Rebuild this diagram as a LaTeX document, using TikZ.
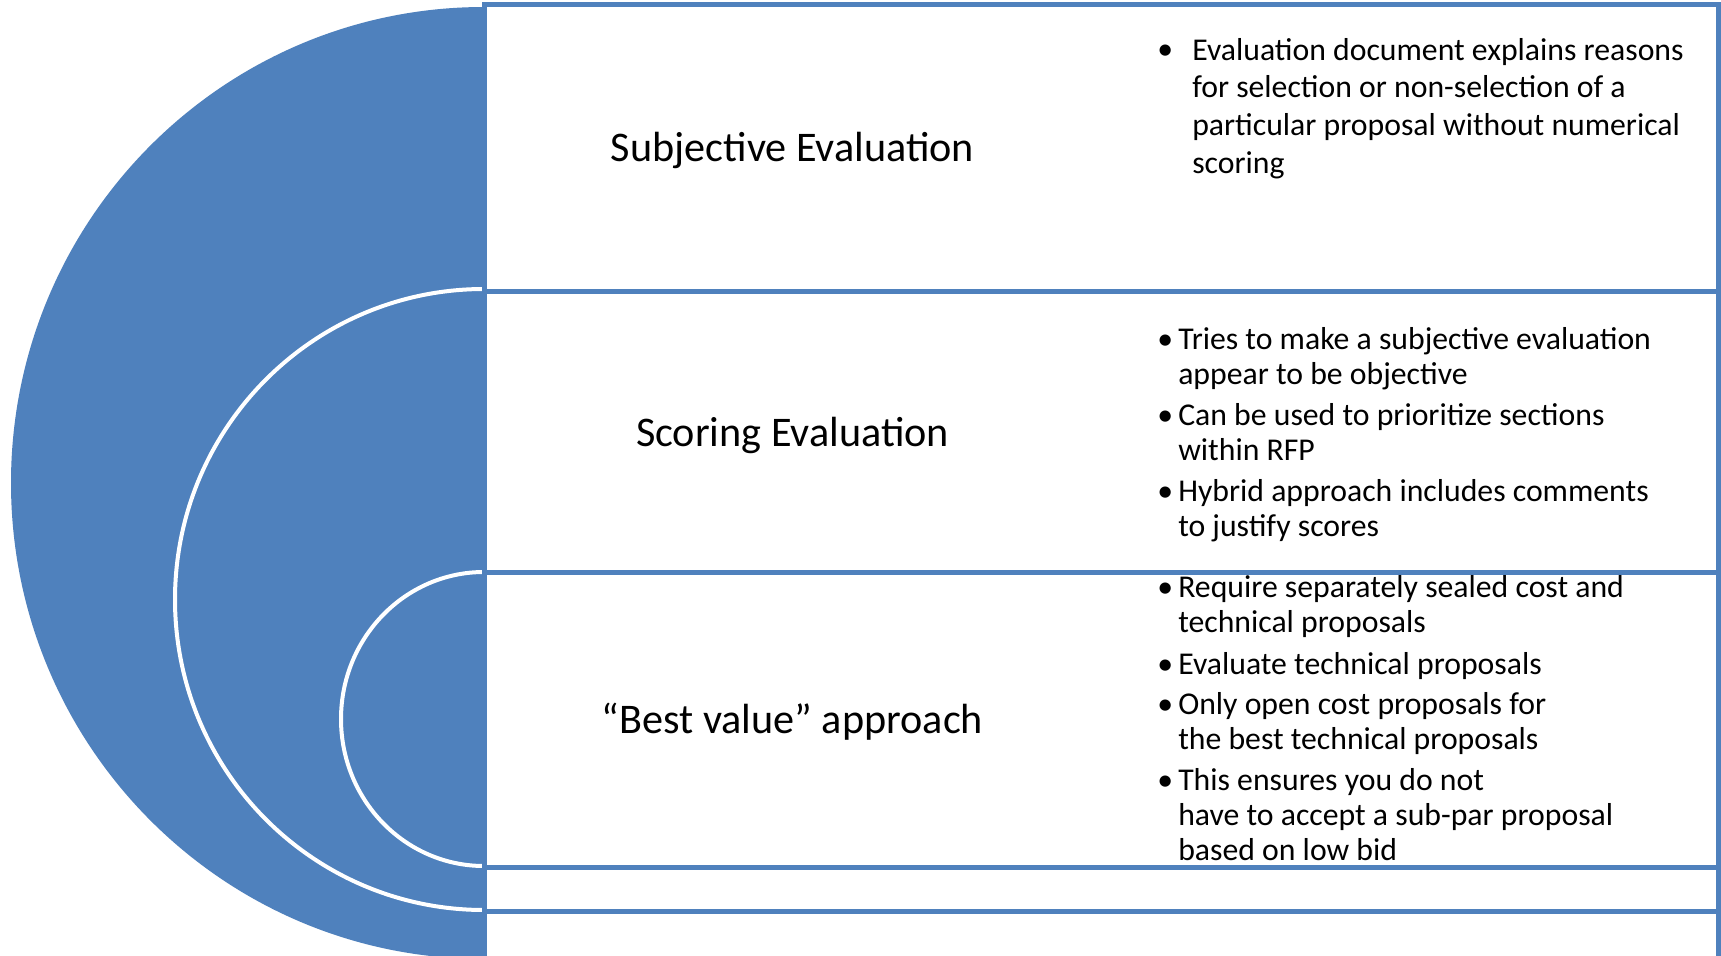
\documentclass[tikz,border=0pt]{standalone}
\usepackage{fontspec}
\setmainfont{Carlito}
\definecolor{accent}{RGB}{79,129,189}
\begin{document}
\begin{tikzpicture}[x=0.75pt,y=-0.75pt,
  band/.style={draw=accent, line width=3.75pt, fill=white},
  ring/.style={draw=white, line width=3pt},
  title/.style={font=\fontsize{31.65}{38}\selectfont, anchor=center, inner sep=0pt},
  dot/.style={font=\fontsize{23.8}{26.25}\selectfont, anchor=base west, inner sep=0pt},
  % multi-line items are anchored at the baseline of their last line
  item/.style={font=\fontsize{23.8}{26.25}\selectfont, align=left, anchor=base west, inner sep=0pt},
  itemwide/.style={item, font=\fontsize{23.8}{28.3}\selectfont},
]
\useasboundingbox (0,0) rectangle (1721,956);
\fill[white] (0,0) rectangle (1721,956);

% nested half-discs on the left
\begin{scope}
  \clip (0,0) rectangle (484,956);
  \fill[accent] (484,483) ellipse [x radius=473, y radius=476];
  \draw[ring] (484,599.5) ellipse [x radius=309, y radius=310.5];
  \draw[ring] (484,719) ellipse [x radius=143, y radius=147];
\end{scope}

% stacked bands
\draw[band] (484,4.5) rectangle (1718.5,291);
\draw[band] (484,291) rectangle (1718.5,572);
\draw[band] (484,572) rectangle (1718.5,867);
\draw[band] (484,867) rectangle (1718.5,911);
\draw[band] (484,911) rectangle (1718.5,962);

% band titles
\node[title] (t1) at (792.5,150) {Subjective Evaluation};
\node[title] (t2) at (792.5,435) {Scoring Evaluation};
\node[title] (t3) at (792.5,722) {“Best value” approach};

% first band
\node[dot] (d11) at (1157,60) {\textbullet};
\node[itemwide] (p11) at (1192,173.2) {Evaluation document explains reasons\\for selection or non-selection of a\\particular proposal without numerical\\scoring};

% second band
\node[dot] (d21) at (1157,349.5) {\textbullet};
\node[item] (p21) at (1178,384.5) {Tries to make a subjective evaluation\\appear to be objective};
\node[dot] (d22) at (1157,425.5) {\textbullet};
\node[item] (p22) at (1178,460.5) {Can be used to prioritize sections\\within RFP};
\node[dot] (d23) at (1157,501) {\textbullet};
\node[item] (p23) at (1178,536) {Hybrid approach includes comments\\to justify scores};

% third band
\node[dot] (d31) at (1157,597.5) {\textbullet};
\node[item] (p31) at (1178,632.5) {Require separately sealed cost and\\technical proposals};
\node[dot] (d32) at (1157,674.5) {\textbullet};
\node[item] (p32) at (1178,674.5) {Evaluate technical proposals};
\node[dot] (d33) at (1157,714) {\textbullet};
\node[item] (p33) at (1178,749) {Only open cost proposals for\\the best technical proposals};
\node[dot] (d34) at (1157,790.5) {\textbullet};
\node[item] (p34) at (1178,860.5) {This ensures you do not\\have to accept a sub-par proposal\\based on low bid};
\end{tikzpicture}
\end{document}
